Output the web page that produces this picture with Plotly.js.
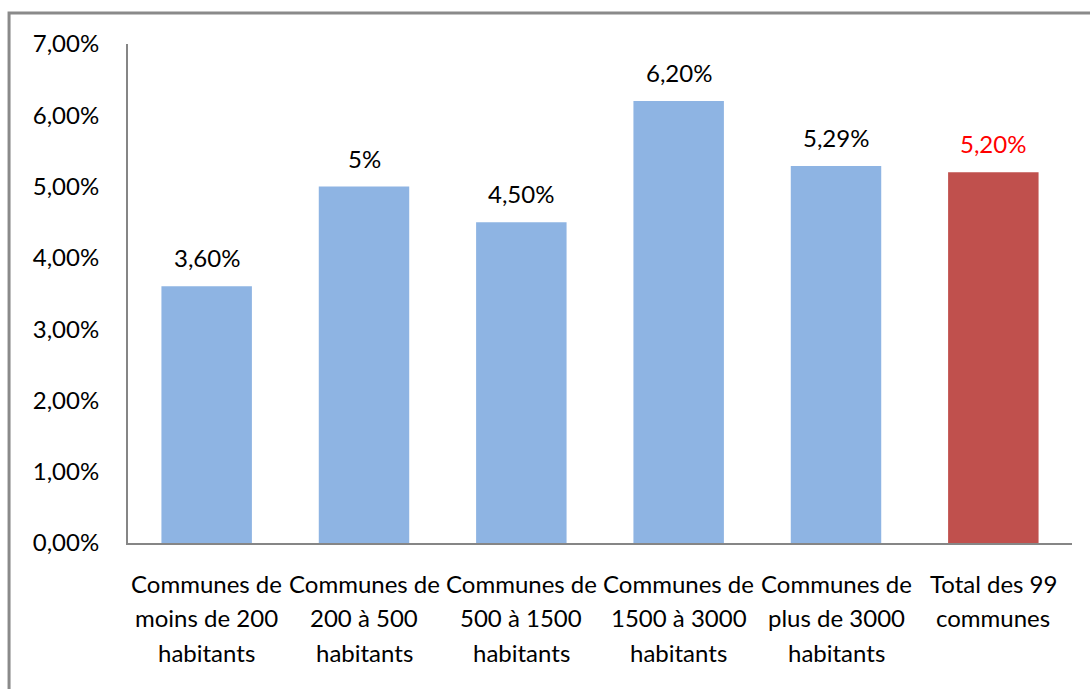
<!DOCTYPE html>
<html>
<head>
<meta charset="utf-8">
<script src="https://cdn.plot.ly/plotly-3.0.1.min.js"></script>
<style>
html,body{margin:0;padding:0;background:#fff;}
#chart{width:1090px;height:689px;}
</style>
</head>
<body>
<div id="chart"></div>
<script>
var categories = [
  "Communes de<br>moins de 200<br>habitants",
  "Communes de<br>200 à 500<br>habitants",
  "Communes de<br>500 à 1500<br>habitants",
  "Communes de<br>1500 à 3000<br>habitants",
  "Communes de<br>plus de 3000<br>habitants",
  "Total des 99<br>communes"
];
var values = [3.60, 5.00, 4.50, 6.20, 5.29, 5.20];
var valueLabels = ["3,60%", "5%", "4,50%", "6,20%", "5,29%", "5,20%"];
var barColors = ["#8EB4E3", "#8EB4E3", "#8EB4E3", "#8EB4E3", "#8EB4E3", "#C0504D"];
var labelColors = ["#000000", "#000000", "#000000", "#000000", "#000000", "#FF0000"];
var yTickVals = [0, 1, 2, 3, 4, 5, 6, 7];
var yTickText = ["0,00%", "1,00%", "2,00%", "3,00%", "4,00%", "5,00%", "6,00%", "7,00%"];

var FONT = "Lato, 'Open Sans', sans-serif";

var annotations = [];
categories.forEach(function (c, i) {
  annotations.push({
    x: c, y: values[i], xref: "x", yref: "y",
    text: valueLabels[i], showarrow: false,
    yanchor: "bottom", yshift: 12,
    font: {family: FONT, size: 24, color: labelColors[i]}
  });
  var lines = c.split("<br>");
  lines.forEach(function (ln, k) {
    annotations.push({
      x: c, y: 0, xref: "x", yref: "y",
      text: ln, showarrow: false,
      yanchor: "middle", yshift: -40 - 34.5 * k,
      font: {family: FONT, size: 24, color: "#000000"}
    });
  });
});

var data = [{
  type: "bar",
  x: categories,
  y: values,
  marker: {color: barColors},
  hoverinfo: "none"
}];

var layout = {
  width: 1090, height: 689,
  margin: {l: 128, r: 18, t: 44, b: 146},
  paper_bgcolor: "#ffffff",
  plot_bgcolor: "#ffffff",
  bargap: 0.425,
  showlegend: false,
  font: {family: FONT, size: 24, color: "#000"},
  xaxis: {
    type: "category",
    showticklabels: false,
    showgrid: false, zeroline: false,
    showline: true, linecolor: "#868686", linewidth: 2,
    ticks: ""
  },
  yaxis: {
    range: [0, 7],
    tickvals: yTickVals, ticktext: yTickText,
    showgrid: false, zeroline: false,
    showline: true, linecolor: "#868686", linewidth: 2,
    ticks: "",
    ticklabelstandoff: 22,
    tickfont: {family: FONT, size: 24, color: "#000"}
  },
  annotations: annotations,
  shapes: [{
    type: "rect", xref: "paper", yref: "paper",
    x0: -0.126, x1: 1.2, y0: -0.5, y1: 1.062,
    line: {color: "#8a8a8a", width: 3}
  }]
};

Plotly.newPlot("chart", data, layout, {staticPlot: true, displayModeBar: false});
</script>
</body>
</html>
